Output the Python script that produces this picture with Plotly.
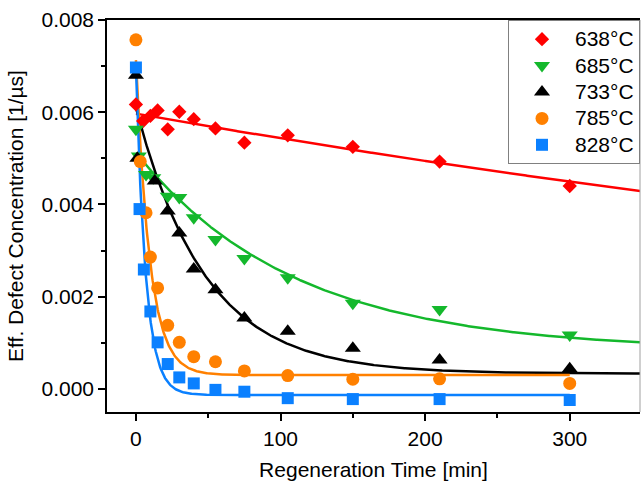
import numpy as np
import plotly.graph_objects as go

# Regeneration series: time [min] and effective defect concentration [1/µs]
temps = ["638°C", "685°C", "733°C", "785°C", "828°C"]
colors = ["#FF0000", "#14B82C", "#000000", "#FF8000", "#0A80FF"]
symbols = ["diamond", "triangle-down", "triangle-up", "circle", "square"]
marker_sizes = [11, 14, 14, 13, 12]

t_638 = [0, 5, 10, 15, 22, 30, 40, 55, 75, 105, 150, 210, 300]
c_638 = [0.00617, 0.00581, 0.00592, 0.00604, 0.00563, 0.00601, 0.00585,
         0.00565, 0.00534, 0.00550, 0.00525, 0.00493, 0.00440]

t_685 = [0, 2, 7, 12, 22, 30, 40, 55, 75, 105, 150, 210, 300]
c_685 = [0.00563, 0.00505, 0.00465, 0.00458, 0.00418, 0.00415, 0.00371,
         0.00324, 0.00283, 0.00241, 0.00186, 0.00172, 0.00117]

t_733 = [0, 1, 13, 22, 30, 40, 55, 75, 105, 150, 210, 300]
c_733 = [0.00680, 0.00500, 0.00451, 0.00386, 0.00338, 0.00260, 0.00215,
         0.00154, 0.00125, 0.00088, 0.00063, 0.00044]

t_785 = [0, 3, 7, 10, 15, 22, 30, 40, 55, 75, 105, 150, 210, 300]
c_785 = [0.00757, 0.00493, 0.00382, 0.00286, 0.00219, 0.00138, 0.00101,
         0.00070, 0.00059, 0.00039, 0.00029, 0.00021, 0.00022, 0.00012]

t_828 = [0, 2.5, 5.5, 10, 15, 22, 30, 40, 55, 75, 105, 150, 210, 300]
c_828 = [0.00697, 0.00390, 0.00259, 0.00168, 0.00101, 0.00054, 0.00025,
         0.00012, -0.00002, -0.00006, -0.00020, -0.00022, -0.00022, -0.00024]

times = [t_638, t_685, t_733, t_785, t_828]
concs = [c_638, c_685, c_733, c_785, c_828]

# Exponential decay fits: c(t) = offset + amplitude * exp(-t / tau)
fit_amp = [0.00640, 0.00429, 0.00577, 0.00683, 0.00710]
fit_tau = [1145.0, 110.0, 48.0, 9.6, 6.8]
fit_off = [-0.00043, 0.00083, 0.00033, 0.00030, -0.00013]
fit_end = [350, 350, 350, 300, 300]

font_family = "Liberation Sans, Arial, sans-serif"
label_size = 21

fig = go.Figure()

for amp, tau, off, t_end, col in zip(fit_amp, fit_tau, fit_off, fit_end, colors):
    tt = np.linspace(0, t_end, 700)
    fig.add_trace(go.Scatter(
        x=tt, y=off + amp * np.exp(-tt / tau), mode="lines",
        line=dict(color=col, width=2.5), showlegend=False, hoverinfo="skip"))

for name, t, c, col, sym, ms in zip(temps, times, concs, colors, symbols, marker_sizes):
    fig.add_trace(go.Scatter(
        x=t, y=c, mode="markers",
        # larger label text inside a compact legend row
        name=f"<span style='font-size:{label_size}px'>{name}</span>",
        marker=dict(color=col, symbol=sym, size=ms, line=dict(width=0))))

fig.update_layout(
    width=641, height=481,
    margin=dict(l=107, r=1, t=20, b=69),
    paper_bgcolor="white", plot_bgcolor="white",
    font=dict(family=font_family, size=label_size, color="black"),
    legend=dict(
        x=1, y=1, xanchor="right", yanchor="top",
        bgcolor="white", bordercolor="#808080", borderwidth=1,
        font=dict(size=18), itemwidth=56, tracegroupgap=0),
)

fig.update_xaxes(
    range=[-20, 348.6], showgrid=False, zeroline=False,
    showline=True, linecolor="black", linewidth=1.5, mirror=True,
    ticks="outside", ticklen=7, tickwidth=1.5, tickcolor="black",
    tickvals=[0, 100, 200, 300], ticktext=["0", "100", "200", "300"],
    minor=dict(tickvals=[50, 150, 250], ticks="outside", ticklen=4,
               tickwidth=1.5, tickcolor="black"),
    tickfont=dict(size=label_size),
    title=dict(text="Regeneration Time [min]", font=dict(size=label_size), standoff=13),
)

fig.update_yaxes(
    range=[-0.0005, 0.008], showgrid=False, zeroline=False,
    showline=True, linecolor="black", linewidth=1.5, mirror=False,
    ticks="outside", ticklen=7, tickwidth=1.5, tickcolor="black",
    tickvals=[0, 0.002, 0.004, 0.006, 0.008],
    ticktext=["0.000", "0.002", "0.004", "0.006", "0.008"],
    minor=dict(tickvals=[0.001, 0.003, 0.005, 0.007], ticks="outside",
               ticklen=4, tickwidth=1.5, tickcolor="black"),
    tickfont=dict(size=label_size),
    title=dict(text="Eff. Defect Concentration [1/µs]", font=dict(size=label_size), standoff=12),
)

# light right-hand frame edge
fig.add_shape(type="line", xref="paper", yref="paper", x0=1, x1=1, y0=0, y1=1,
              line=dict(color="#A0A0A0", width=1))

fig.write_html("out.html")
